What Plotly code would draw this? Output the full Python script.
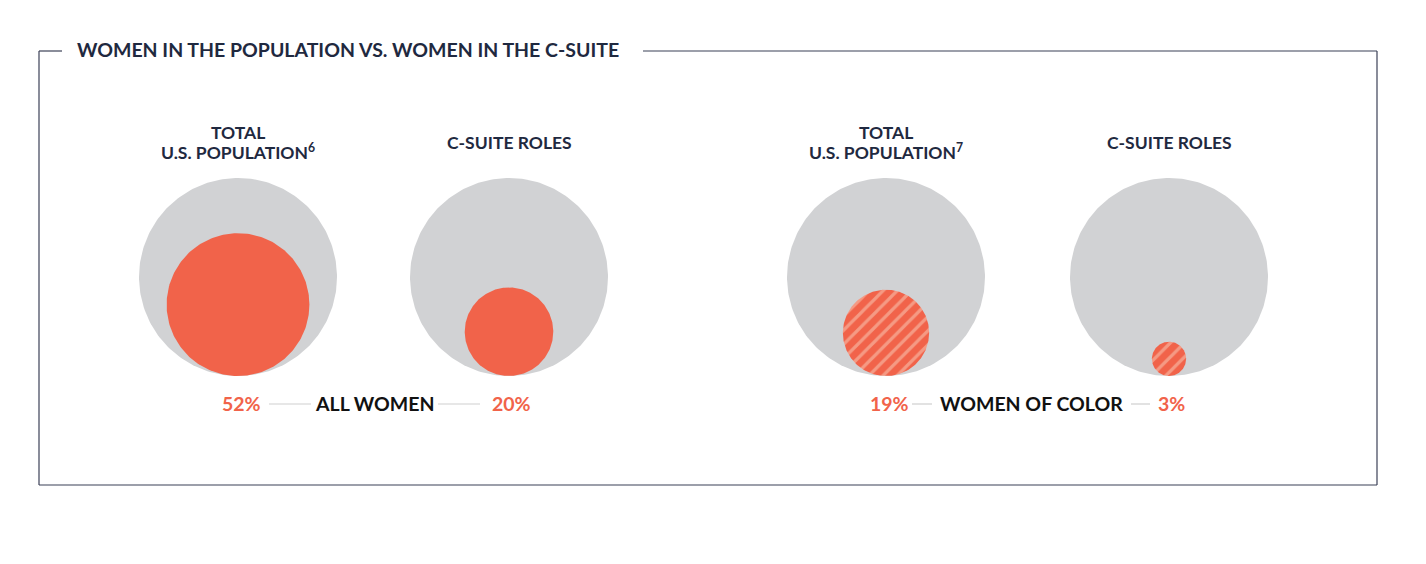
import numpy as np
import plotly.graph_objects as go

# ---- data ----
groups = ["ALL WOMEN", "WOMEN OF COLOR"]
population_pct = [52, 19]      # share of total U.S. population
csuite_pct = [20, 3]           # share of C-suite roles
population_label_top = "TOTAL"
population_label_bottom = ["U.S. POPULATION<sup>6</sup>", "U.S. POPULATION<sup>7</sup>"]
csuite_label = "C-SUITE ROLES"
chart_title = "WOMEN IN THE POPULATION VS. WOMEN IN THE C-SUITE"

# ---- styling / layout constants ----
W, H = 1426, 564
ORANGE = "#F1634A"
STRIPE = "#F59A84"
GREY = "#D1D2D4"
NAVY = "#1F2940"
FONT = "Lato"
R = 99            # radius of the 100% circle
CY = 277
centers = [[238, 509], [886, 1169]]
hatched = [False, True]

fig = go.Figure()
theta = np.linspace(0, 2 * np.pi, 241)


def circle(cx, cy, r, color, pattern=None):
    kw = dict(
        x=cx + r * np.cos(theta), y=cy + r * np.sin(theta),
        mode="lines", line=dict(width=0, color=color), fill="toself",
        fillcolor=color, hoverinfo="skip", showlegend=False,
    )
    if pattern:
        kw["fillpattern"] = dict(shape="/", bgcolor=color, fgcolor=STRIPE,
                                 size=10, solidity=0.32, fillmode="replace")
    fig.add_trace(go.Scatter(**kw))


for g in range(len(groups)):
    for j, pct in enumerate([population_pct[g], csuite_pct[g]]):
        cx = centers[g][j]
        circle(cx, CY, R, GREY)
        r = R * np.sqrt(pct / 100.0)
        circle(cx, CY + R - r, r, ORANGE, pattern=hatched[g])

annotations = []
shapes = []

# frame
frame_col = "#3B4057"
for x0, y0, x1, y1 in [(39, 51, 39, 485), (39, 485, 1377, 485), (1377, 51, 1377, 485),
                       (39, 51, 62, 51), (643, 51, 1377, 51)]:
    shapes.append(dict(type="line", xref="x", yref="y", x0=x0, y0=y0, x1=x1, y1=y1,
                       line=dict(color=frame_col, width=1.2)))

annotations.append(dict(x=75, y=49.5, xref="x", yref="y", text=chart_title, showarrow=False,
                        xanchor="left", yanchor="middle",
                        font=dict(family=FONT, size=19.5, color=NAVY, weight="bold")))

# column headers
hfont = dict(family=FONT, size=17.5, color=NAVY, weight="bold")
for g in range(len(groups)):
    annotations.append(dict(x=centers[g][0], y=132, xref="x", yref="y", text=population_label_top,
                            showarrow=False, xanchor="center", yanchor="middle", font=hfont))
    annotations.append(dict(x=centers[g][0], y=151.5, xref="x", yref="y", text=population_label_bottom[g],
                            showarrow=False, xanchor="center", yanchor="middle", font=hfont))
    annotations.append(dict(x=centers[g][1], y=142, xref="x", yref="y", text=csuite_label,
                            showarrow=False, xanchor="center", yanchor="middle", font=hfont))

# bottom labels
label_x = [374, 1031]
pct_x = [[241, 511], [889, 1171]]
lines_x = [[(269, 311), (438, 480)], [(912, 932), (1131, 1150)]]
for g in range(len(groups)):
    annotations.append(dict(x=label_x[g], y=403, xref="x", yref="y", text=groups[g],
                            showarrow=False, xanchor="center", yanchor="middle",
                            font=dict(family=FONT, size=19.5, color="#111111", weight="bold")))
    for j, pct in enumerate([population_pct[g], csuite_pct[g]]):
        annotations.append(dict(x=pct_x[g][j], y=403, xref="x", yref="y", text=f"{pct}%",
                                showarrow=False, xanchor="center", yanchor="middle",
                                font=dict(family=FONT, size=19.5, color=ORANGE, weight="bold")))
    for x0, x1 in lines_x[g]:
        shapes.append(dict(type="line", xref="x", yref="y", x0=x0, y0=404, x1=x1, y1=404,
                           line=dict(color="#CFCFCF", width=1.2)))

fig.update_layout(
    width=W, height=H, margin=dict(l=0, r=0, t=0, b=0),
    paper_bgcolor="white", plot_bgcolor="white",
    xaxis=dict(range=[0, W], visible=False, fixedrange=True),
    yaxis=dict(range=[H, 0], visible=False, fixedrange=True),
    shapes=shapes, annotations=annotations, showlegend=False,
)

fig.write_html("out.html", config={"displayModeBar": False},
               post_script="document.body.style.margin='0';")
